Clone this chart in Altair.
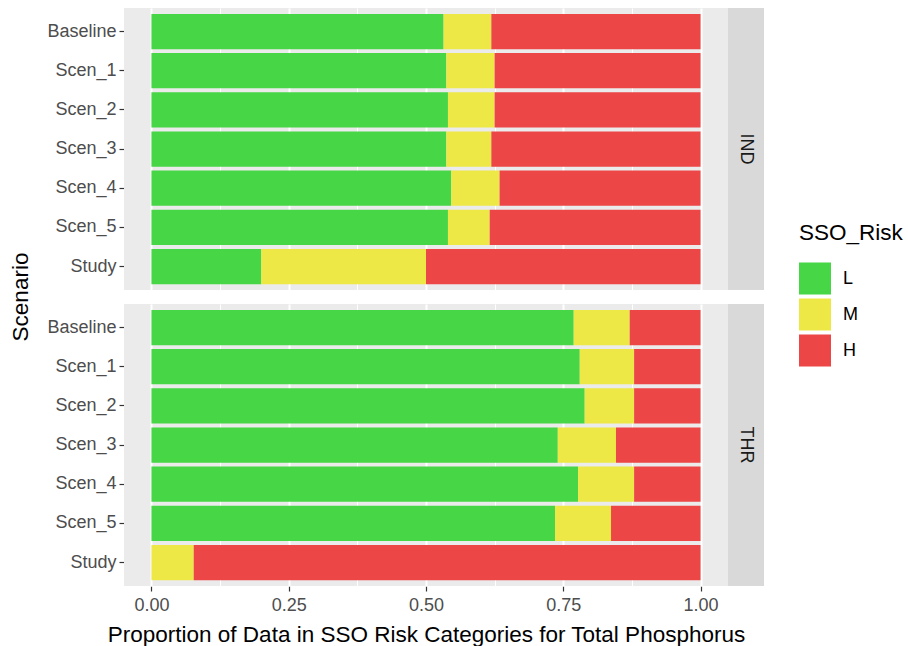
import altair as alt
import pandas as pd

# Categories
scenarios = ["Baseline", "Scen_1", "Scen_2", "Scen_3", "Scen_4", "Scen_5", "Study"]
panels = ["IND", "THR"]
risk_levels = ["L", "M", "H"]
risk_colors = ["#46D646", "#EDE846", "#ED4646"]

# Proportion of observations in each SSO risk class, per scenario
ind_L = [0.532, 0.537, 0.540, 0.537, 0.546, 0.540, 0.200]
ind_M = [0.087, 0.088, 0.085, 0.082, 0.088, 0.076, 0.300]
ind_H = [0.381, 0.375, 0.375, 0.381, 0.366, 0.384, 0.500]

thr_L = [0.769, 0.780, 0.789, 0.740, 0.777, 0.735, 0.000]
thr_M = [0.102, 0.099, 0.090, 0.106, 0.102, 0.102, 0.077]
thr_H = [0.129, 0.121, 0.121, 0.154, 0.121, 0.163, 0.923]

series = {
    "IND": {"L": ind_L, "M": ind_M, "H": ind_H},
    "THR": {"L": thr_L, "M": thr_M, "H": thr_H},
}

rows = []
for panel in panels:
    for rank, risk in enumerate(risk_levels):
        for scen, val in zip(scenarios, series[panel][risk]):
            rows.append({"Panel": panel, "Scenario": scen, "SSO_Risk": risk,
                         "rank": rank, "Proportion": val})
df = pd.DataFrame(rows)

W, H = 604, 282
STRIP = 36
FONT = "Liberation Sans"
TITLE_SIZE = 22.5

major_test = "(datum.value * 4) % 1 == 0"

x_axis = alt.Axis(
    values=[0, 0.125, 0.25, 0.375, 0.5, 0.625, 0.75, 0.875, 1.0],
    labelExpr=f"{major_test} ? format(datum.value, '.2f') : ''",
    gridWidth={"condition": {"test": major_test, "value": 2}, "value": 1},
    tickOpacity={"condition": {"test": major_test, "value": 1}, "value": 0},
    labelPadding=5,
    titlePadding=9,
)

bars = alt.Chart().mark_bar(strokeWidth=0).encode(
    x=alt.X("Proportion:Q", stack="zero",
            scale=alt.Scale(domain=[-0.05, 1.05], nice=False, zero=False),
            axis=x_axis,
            title="Proportion of Data in SSO Risk Categories for Total Phosphorus"),
    y=alt.Y("Scenario:N", sort=scenarios,
            scale=alt.Scale(domain=scenarios, paddingInner=0.1, paddingOuter=0.15),
            axis=alt.Axis(bandPosition=0.5),
            title=None),
    color=alt.Color("SSO_Risk:N",
                    scale=alt.Scale(domain=risk_levels, range=risk_colors),
                    legend=alt.Legend(
                        title="SSO_Risk", orient="none", legendX=675, legendY=214,
                        symbolType="square", symbolSize=1024, symbolStrokeWidth=0,
                        symbolOpacity=1, rowPadding=4, labelOffset=12,
                        titlePadding=18, titleFontSize=TITLE_SIZE,
                        titleFontWeight="normal",
                        titleColor="#000000", labelFontSize=18, labelColor="#000000",
                        titleFont=FONT, labelFont=FONT)),
    order=alt.Order("rank:Q", sort="ascending"),
)

# Panel strips on the right-hand side
strip_base = alt.Chart().transform_aggregate(n="count()", groupby=["Panel"])
strip_rect = strip_base.mark_rect(color="#D9D9D9").encode(
    x=alt.value(W), x2=alt.value(W + STRIP), y=alt.value(0), y2=alt.value(H)
)
strip_text = strip_base.mark_text(
    angle=90, fontSize=18, color="#1A1A1A", font=FONT, baseline="middle", align="center"
).encode(x=alt.value(W + STRIP / 2), y=alt.value(H / 2), text="Panel:N")

chart = alt.layer(bars, strip_rect, strip_text, data=df).properties(
    width=W, height=H
).facet(
    row=alt.Row("Panel:N", sort=panels,
                header=alt.Header(title="Scenario", labels=False,
                                  titleFont=FONT, titleFontSize=TITLE_SIZE,
                                  titleFontWeight="normal", titleColor="#000000",
                                  titlePadding=4)),
    spacing=14,
).properties(
    padding={"left": 9, "top": 8, "right": 0, "bottom": 0},
    background="#FFFFFF",
).configure_view(
    fill="#EBEBEB", stroke=None
).configure_axis(
    domain=False, gridColor="#FFFFFF", gridWidth=2,
    tickColor="#333333", tickSize=5, tickWidth=1.2,
    labelFont=FONT, labelFontSize=18, labelColor="#4D4D4D", labelPadding=3,
    titleFont=FONT, titleFontSize=TITLE_SIZE, titleFontWeight="normal",
    titleColor="#000000",
)

chart.save("out.html", embed_options={"renderer": "svg", "actions": False})
